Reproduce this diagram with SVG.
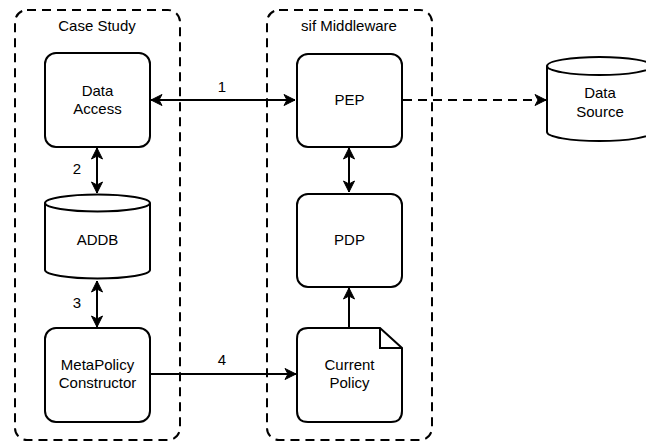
<svg xmlns="http://www.w3.org/2000/svg" width="646" height="443" viewBox="0 0 646 443">
  <style>
    text { font-family: "Liberation Sans", Arial, sans-serif; font-size: 15px; fill: #000; text-anchor: middle; }
    .box { fill: #fff; stroke: #000; stroke-width: 2; }
    .group { fill: none; stroke: #000; stroke-width: 2; stroke-dasharray: 9 6; }
    .edge { fill: none; stroke: #000; stroke-width: 2; }
    .dashed { stroke-dasharray: 9 6; }
  </style>
  <defs>
    <marker id="arrow" viewBox="-12 -6 13 12" refX="0" refY="0" markerWidth="13" markerHeight="12" markerUnits="userSpaceOnUse" orient="auto-start-reverse">
      <path d="M0,0 L-11,-5.5 L-8,0 L-11,5.5 Z" fill="#000" stroke="#000" stroke-width="1" stroke-linejoin="miter"/>
    </marker>
  </defs>
  <rect width="646" height="443" fill="#fff"/>

  <!-- containers -->
  <g id="case-study">
    <rect class="group" x="15" y="10" width="165" height="430" rx="12"/>
    <text x="97" y="31">Case Study</text>
  </g>
  <g id="sif-middleware">
    <rect class="group" x="267" y="10" width="165" height="430" rx="12"/>
    <text x="349" y="31">sif Middleware</text>
  </g>

  <!-- connectors -->
  <g id="connectors">
    <line class="edge" x1="151" y1="100" x2="295" y2="100" marker-start="url(#arrow)" marker-end="url(#arrow)"/>
    <line class="edge dashed" x1="403" y1="100" x2="546" y2="100" marker-end="url(#arrow)"/>
    <line class="edge" x1="97" y1="148" x2="97" y2="193" marker-start="url(#arrow)" marker-end="url(#arrow)"/>
    <line class="edge" x1="97" y1="281" x2="97" y2="327" marker-start="url(#arrow)" marker-end="url(#arrow)"/>
    <line class="edge" x1="349" y1="148" x2="349" y2="192" marker-start="url(#arrow)" marker-end="url(#arrow)"/>
    <line class="edge" x1="349" y1="327" x2="349" y2="288" marker-end="url(#arrow)"/>
    <line class="edge" x1="151" y1="374" x2="296" y2="374" marker-end="url(#arrow)"/>
    <text x="222" y="92">1</text>
    <text x="77" y="174">2</text>
    <text x="77" y="308">3</text>
    <text x="222" y="365">4</text>
  </g>

  <!-- nodes -->
  <g id="data-access">
    <rect class="box" x="45" y="53" width="105" height="94" rx="11"/>
    <text x="97.5" y="96">Data</text>
    <text x="97.5" y="114">Access</text>
  </g>
  <g id="addb">
    <path class="box" d="M45,203 A52.5,8.5 0 0 1 150,203 L150,270 A52.5,8.5 0 0 1 45,270 Z"/>
    <path class="edge" d="M45,203 A52.5,8.5 0 0 0 150,203"/>
    <text x="97.5" y="245">ADDB</text>
  </g>
  <g id="metapolicy-constructor">
    <rect class="box" x="45" y="328" width="105" height="94" rx="11"/>
    <text x="97.5" y="370">MetaPolicy</text>
    <text x="97.5" y="388">Constructor</text>
  </g>
  <g id="pep">
    <rect class="box" x="297" y="54" width="105" height="93" rx="11"/>
    <text x="349.5" y="105">PEP</text>
  </g>
  <g id="pdp">
    <rect class="box" x="297" y="194" width="105" height="93" rx="11"/>
    <text x="349.5" y="245">PDP</text>
  </g>
  <g id="current-policy">
    <path class="box" d="M308,328 L380,328 L402,348 L402,411 Q402,422 391,422 L308,422 Q297,422 297,411 L297,339 Q297,328 308,328 Z"/>
    <path class="edge" d="M380,328 L380,348 L402,348" stroke-linejoin="miter"/>
    <text x="349.5" y="370">Current</text>
    <text x="349.5" y="388">Policy</text>
  </g>
  <g id="data-source">
    <path class="box" d="M547,66 A52.5,9 0 0 1 652,66 L652,132 A52.5,9 0 0 1 547,132 Z"/>
    <path class="edge" d="M547,66 A52.5,9 0 0 0 652,66"/>
    <text x="600" y="98">Data</text>
    <text x="600" y="117">Source</text>
  </g>
</svg>
